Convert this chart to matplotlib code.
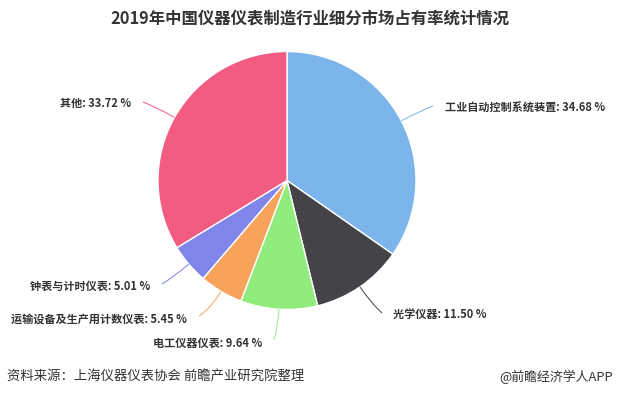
import numpy as np
import matplotlib
matplotlib.use("Agg")
import matplotlib.pyplot as plt
from matplotlib.path import Path
from matplotlib.patches import PathPatch

plt.rcParams['font.family'] = ['Noto Sans CJK SC', 'DejaVu Sans']

# ---- data ----
categories = ["工业自动控制系统装置", "光学仪器", "电工仪器仪表",
              "运输设备及生产用计数仪表", "钟表与计时仪表", "其他"]
shares = [34.68, 11.50, 9.64, 5.45, 5.01, 33.72]
colors = ["#7cb5ec", "#434348", "#90ed7d", "#f7a35c", "#8085e9", "#f15c80"]

title = "2019年中国仪器仪表制造行业细分市场占有率统计情况"
source = "资料来源：上海仪器仪表协会 前瞻产业研究院整理"
brand = "@前瞻经济学人APP"

# ---- layout (pixel coordinates, y downward) ----
W, H = 619, 396
center_px = (287, 180.5)
radius_px = 129
# connector end point and label anchor for each slice
conn_end = [(433, 106), (382, 313), (274, 340), (199, 316), (162, 284), (143, 102)]
label_pos = [(445, 108), (393, 314), (262, 343), (187, 319), (150, 286), (131, 103)]
label_ha = ["left", "left", "right", "right", "right", "right"]

fig = plt.figure(figsize=(W / 100, H / 100), dpi=100)
ax = fig.add_axes([0, 0, 1, 1])

cx, cy = center_px[0], H - center_px[1]
wedges, _ = ax.pie(shares, colors=colors, startangle=90, counterclock=False,
                   center=(cx, cy), radius=radius_px,
                   wedgeprops=dict(edgecolor="white", linewidth=1.0))
ax.set_xlim(0, W)
ax.set_ylim(0, H)
ax.set_aspect("equal")
ax.set_axis_off()

for w, name, val, col, pe, lp, ha in zip(wedges, categories, shares, colors,
                                         conn_end, label_pos, label_ha):
    mid = np.deg2rad((w.theta1 + w.theta2) / 2)
    u = np.array([np.cos(mid), np.sin(mid)])
    p0 = np.array([cx, cy]) + u * radius_px
    p2 = np.array([pe[0], H - pe[1]])
    d = np.linalg.norm(p2 - p0)
    c = p0 + u * d * 0.6
    path = Path([p0, c, p2], [Path.MOVETO, Path.CURVE3, Path.CURVE3])
    ax.add_patch(PathPatch(path, facecolor="none", edgecolor=col, lw=0.8, alpha=0.9))
    ax.text(lp[0], H - lp[1], f"{name}: {val:.2f} %", ha=ha, va="center",
            fontsize=8, fontweight="bold", color="#333333")

fig.text(0.5, 1 - 18 / H, title, ha="center", va="center",
         fontsize=11.8, fontweight="bold", color="#333333")
fig.text(7 / W, 1 - 377 / H, source, ha="left", va="center",
         fontsize=9.6, color="#333333")
fig.text(613 / W, 1 - 377 / H, brand, ha="right", va="center",
         fontsize=9.3, color="#333333")

fig.savefig("out.png", dpi=100, facecolor="white")
